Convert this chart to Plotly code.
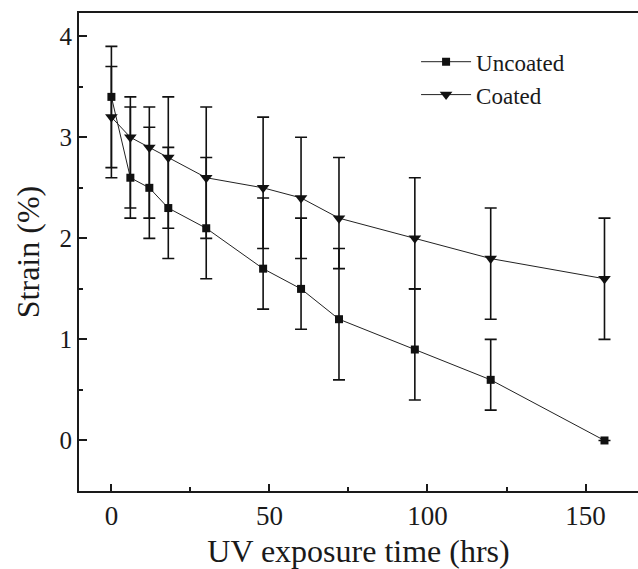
import plotly.graph_objects as go

time_hrs = [0, 6, 12, 18, 30, 48, 60, 72, 96, 120, 156]

uncoated = [3.4, 2.6, 2.5, 2.3, 2.1, 1.7, 1.5, 1.2, 0.9, 0.6, 0.0]
uncoated_err_plus = [0.5, 0.7, 0.6, 0.6, 0.7, 0.7, 0.7, 0.7, 0.6, 0.4, 0.0]
uncoated_err_minus = [0.8, 0.3, 0.5, 0.5, 0.5, 0.4, 0.4, 0.6, 0.5, 0.3, 0.0]

coated = [3.2, 3.0, 2.9, 2.8, 2.6, 2.5, 2.4, 2.2, 2.0, 1.8, 1.6]
coated_err_plus = [0.5, 0.4, 0.4, 0.6, 0.7, 0.7, 0.6, 0.6, 0.6, 0.5, 0.6]
coated_err_minus = [0.5, 0.8, 0.7, 0.7, 0.6, 0.6, 0.6, 0.5, 0.5, 0.6, 0.6]

x_ticks = [0, 50, 100, 150]
y_ticks = [0, 1, 2, 3, 4]

FONT = "Liberation Serif"

fig = go.Figure()

fig.add_trace(go.Scatter(
    x=time_hrs, y=uncoated, name="Uncoated", mode="lines+markers",
    line=dict(color="#222222", width=1),
    marker=dict(symbol="square", size=8, color="#111111"),
    error_y=dict(type="data", symmetric=False, array=uncoated_err_plus,
                 arrayminus=uncoated_err_minus, color="#111111",
                 thickness=1.6, width=6),
))
fig.add_trace(go.Scatter(
    x=time_hrs, y=coated, name="Coated", mode="lines+markers",
    line=dict(color="#222222", width=1),
    marker=dict(symbol="triangle-down", size=11, color="#111111"),
    error_y=dict(type="data", symmetric=False, array=coated_err_plus,
                 arrayminus=coated_err_minus, color="#111111",
                 thickness=1.6, width=6),
))

fig.update_layout(
    width=638, height=569,
    margin=dict(l=79, r=0, t=13, b=78),
    paper_bgcolor="white", plot_bgcolor="white",
    font=dict(family=FONT, color="#1a1a1a"),
    showlegend=True,
    legend=dict(x=0.603, y=0.943, xanchor="left", yanchor="top",
                font=dict(family=FONT, size=23, color="#1a1a1a"),
                bgcolor="rgba(0,0,0,0)", borderwidth=0, itemwidth=50,
                tracegroupgap=0),
)

fig.update_xaxes(
    range=[-10.25, 166.6], tickvals=x_ticks, ticktext=[str(v) for v in x_ticks],
    ticks="inside", ticklen=7, tickwidth=2, tickcolor="#1a1a1a",
    minor=dict(dtick=25, tick0=0, ticks="inside", ticklen=4, tickwidth=1.5, tickcolor="#1a1a1a"),
    showline=True, linewidth=2, linecolor="#1a1a1a", mirror=True,
    showgrid=False, zeroline=False, automargin=False,
    tickfont=dict(family=FONT, size=27),
    title=dict(text="UV exposure time (hrs)", font=dict(family=FONT, size=32), standoff=10),
)
fig.update_yaxes(
    range=[-0.5, 4.23], tickvals=y_ticks, ticktext=[str(v) for v in y_ticks],
    ticks="inside", ticklen=8, tickwidth=2, tickcolor="#1a1a1a",
    minor=dict(dtick=0.5, tick0=0, ticks="inside", ticklen=4, tickwidth=1.5, tickcolor="#1a1a1a"),
    showline=True, linewidth=2, linecolor="#1a1a1a", mirror=False,
    showgrid=False, zeroline=False, automargin=False,
    tickfont=dict(family=FONT, size=25),
    title=dict(text="Strain (%)", font=dict(family=FONT, size=32), standoff=10),
)

fig.write_html(
    "out.html",
    config={"displayModeBar": False},
    post_script="document.body.style.margin='0px'; document.body.style.overflow='hidden';",
)
